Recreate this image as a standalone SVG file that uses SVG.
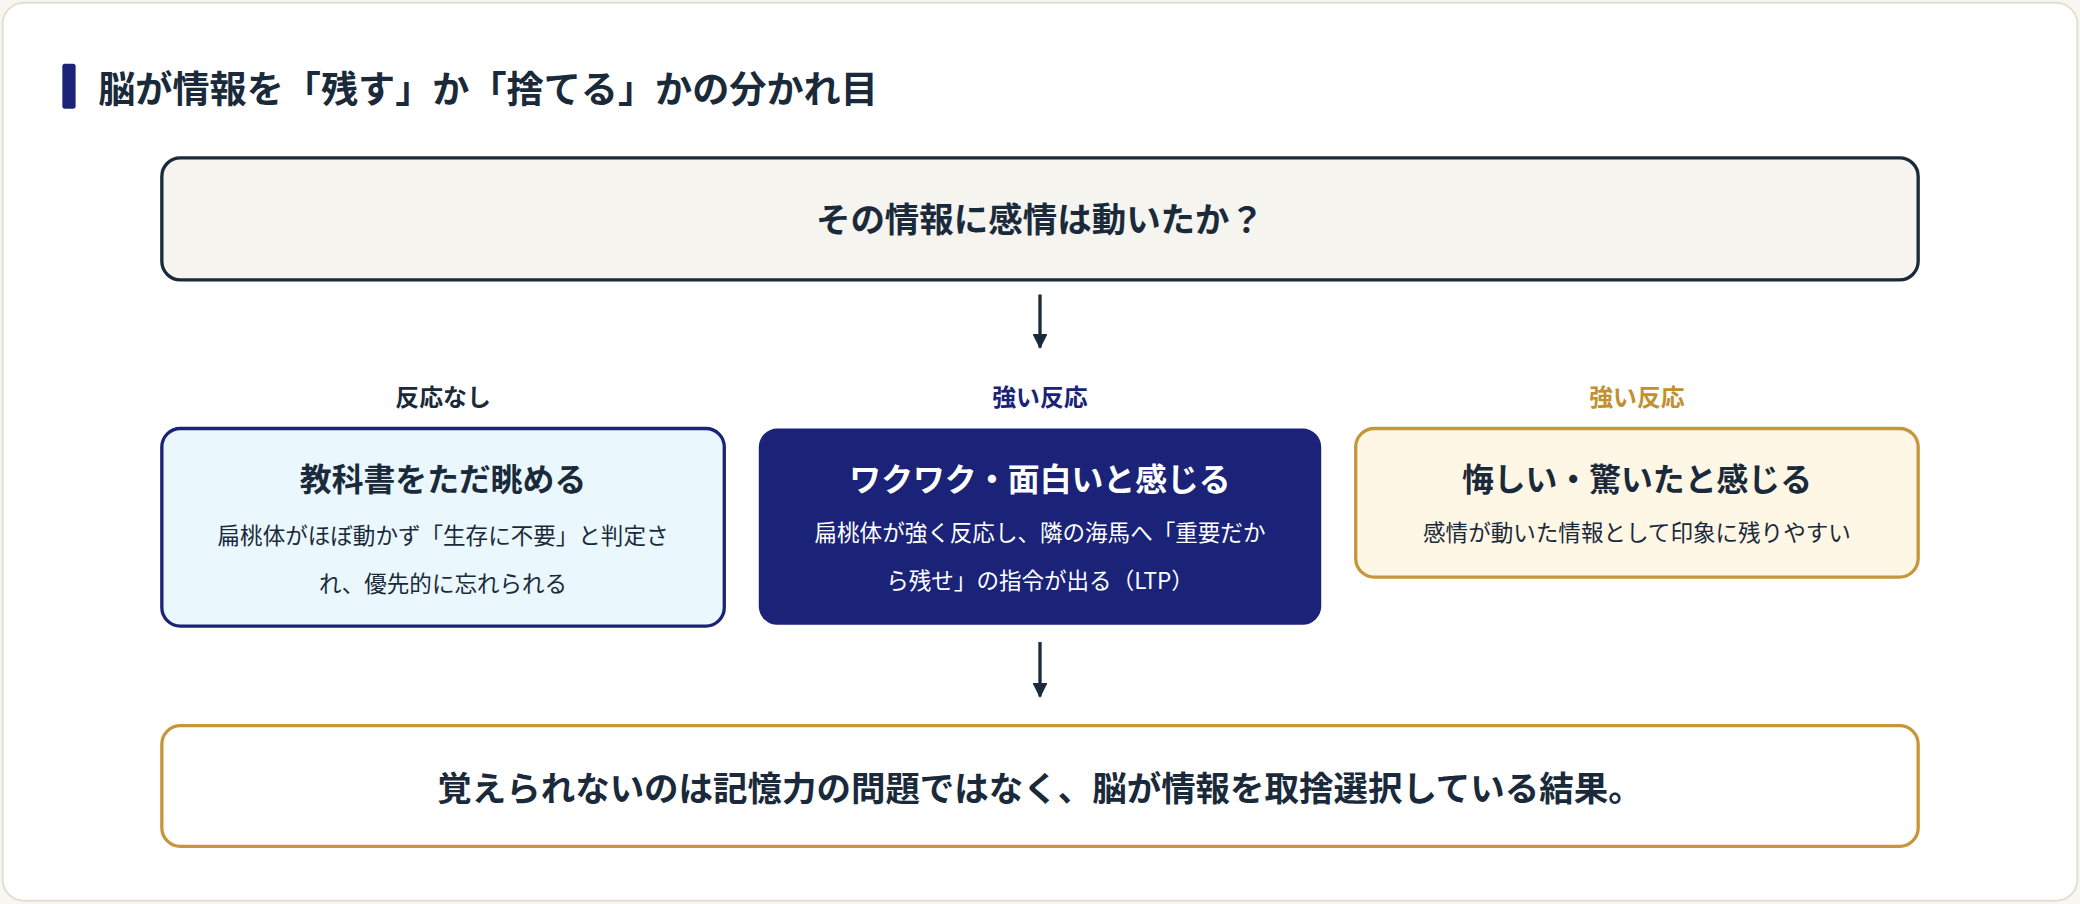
<svg xmlns="http://www.w3.org/2000/svg" width="2080" height="904" viewBox="0 0 2080 904">
<defs>
<style>
text{font-family:"Noto Sans CJK JP","Noto Sans",sans-serif;text-anchor:middle;fill:#1a2a3a}
.b{font-weight:700}
.t{font-size:24px;font-weight:700}
.s{font-size:17px}
.lab{font-size:18px;font-weight:700}
</style>
<marker id="ah" viewBox="0 0 10 10" refX="9" refY="5" markerWidth="4.5" markerHeight="4.5" orient="auto" markerUnits="strokeWidth"><path d="M0,0L10,5L0,10z" fill="#1a2a3a"/></marker>
</defs>
<rect width="2080" height="904" fill="#f7f6f1"/>
<g transform="scale(1.32653)">
<rect x="2" y="2" width="1564" height="677" rx="16" fill="#fff" stroke="#e2dfcf" stroke-width="1.5"/>
<g id="title">
<rect x="47" y="48" width="10" height="34" rx="2" fill="#1b2378"/>
<text x="74" y="78" class="b" style="font-size:28px;text-anchor:start">脳が情報を「残す」か「捨てる」かの分かれ目</text>
</g>
<g id="q">
<rect x="122" y="119" width="1324" height="92" rx="14" fill="#f5f4ef" stroke="#1a2a3a" stroke-width="2.5"/>
<text x="784" y="175" class="b" style="font-size:26px">その情報に感情は動いたか？</text>
</g>
<g id="connectors" stroke="#1a2a3a" stroke-width="2.5" fill="none">
<line x1="784" y1="222" x2="784" y2="262" marker-end="url(#ah)"/>
<line x1="784" y1="484" x2="784" y2="525" marker-end="url(#ah)"/>
</g>
<g id="left">
<text x="334" y="306" class="lab">反応なし</text>
<rect x="122" y="323" width="424" height="149" rx="14" fill="#eaf7fd" stroke="#1b2378" stroke-width="2.5"/>
<text x="334" y="370" class="t">教科書をただ眺める</text>
<text x="334" y="410" class="s">扁桃体がほぼ動かず「生存に不要」と判定さ</text>
<text x="334" y="446" class="s">れ、優先的に忘れられる</text>
</g>
<g id="mid">
<text x="784" y="306" class="lab" style="fill:#1b2378">強い反応</text>
<rect x="572" y="323" width="424" height="148" rx="14" fill="#1b2378"/>
<text x="784" y="370" class="t" style="fill:#fff">ワクワク・面白いと感じる</text>
<text x="784" y="408" class="s" style="fill:#fff">扁桃体が強く反応し、隣の海馬へ「重要だか</text>
<text x="784" y="444" class="s" style="fill:#fff">ら残せ」の指令が出る（LTP）</text>
</g>
<g id="right">
<text x="1234" y="306" class="lab" style="fill:#c0912e">強い反応</text>
<rect x="1022" y="323" width="424" height="112" rx="14" fill="#fff7e6" stroke="#c8963a" stroke-width="2.5"/>
<text x="1234" y="370" class="t">悔しい・驚いたと感じる</text>
<text x="1234" y="408" class="s">感情が動いた情報として印象に残りやすい</text>
</g>
<g id="result">
<rect x="122" y="547" width="1324" height="91" rx="14" fill="#fff" stroke="#c8963a" stroke-width="2.5"/>
<text x="784" y="604" class="b" style="font-size:26px">覚えられないのは記憶力の問題ではなく、脳が情報を取捨選択している結果。</text>
</g>
</g>
</svg>
